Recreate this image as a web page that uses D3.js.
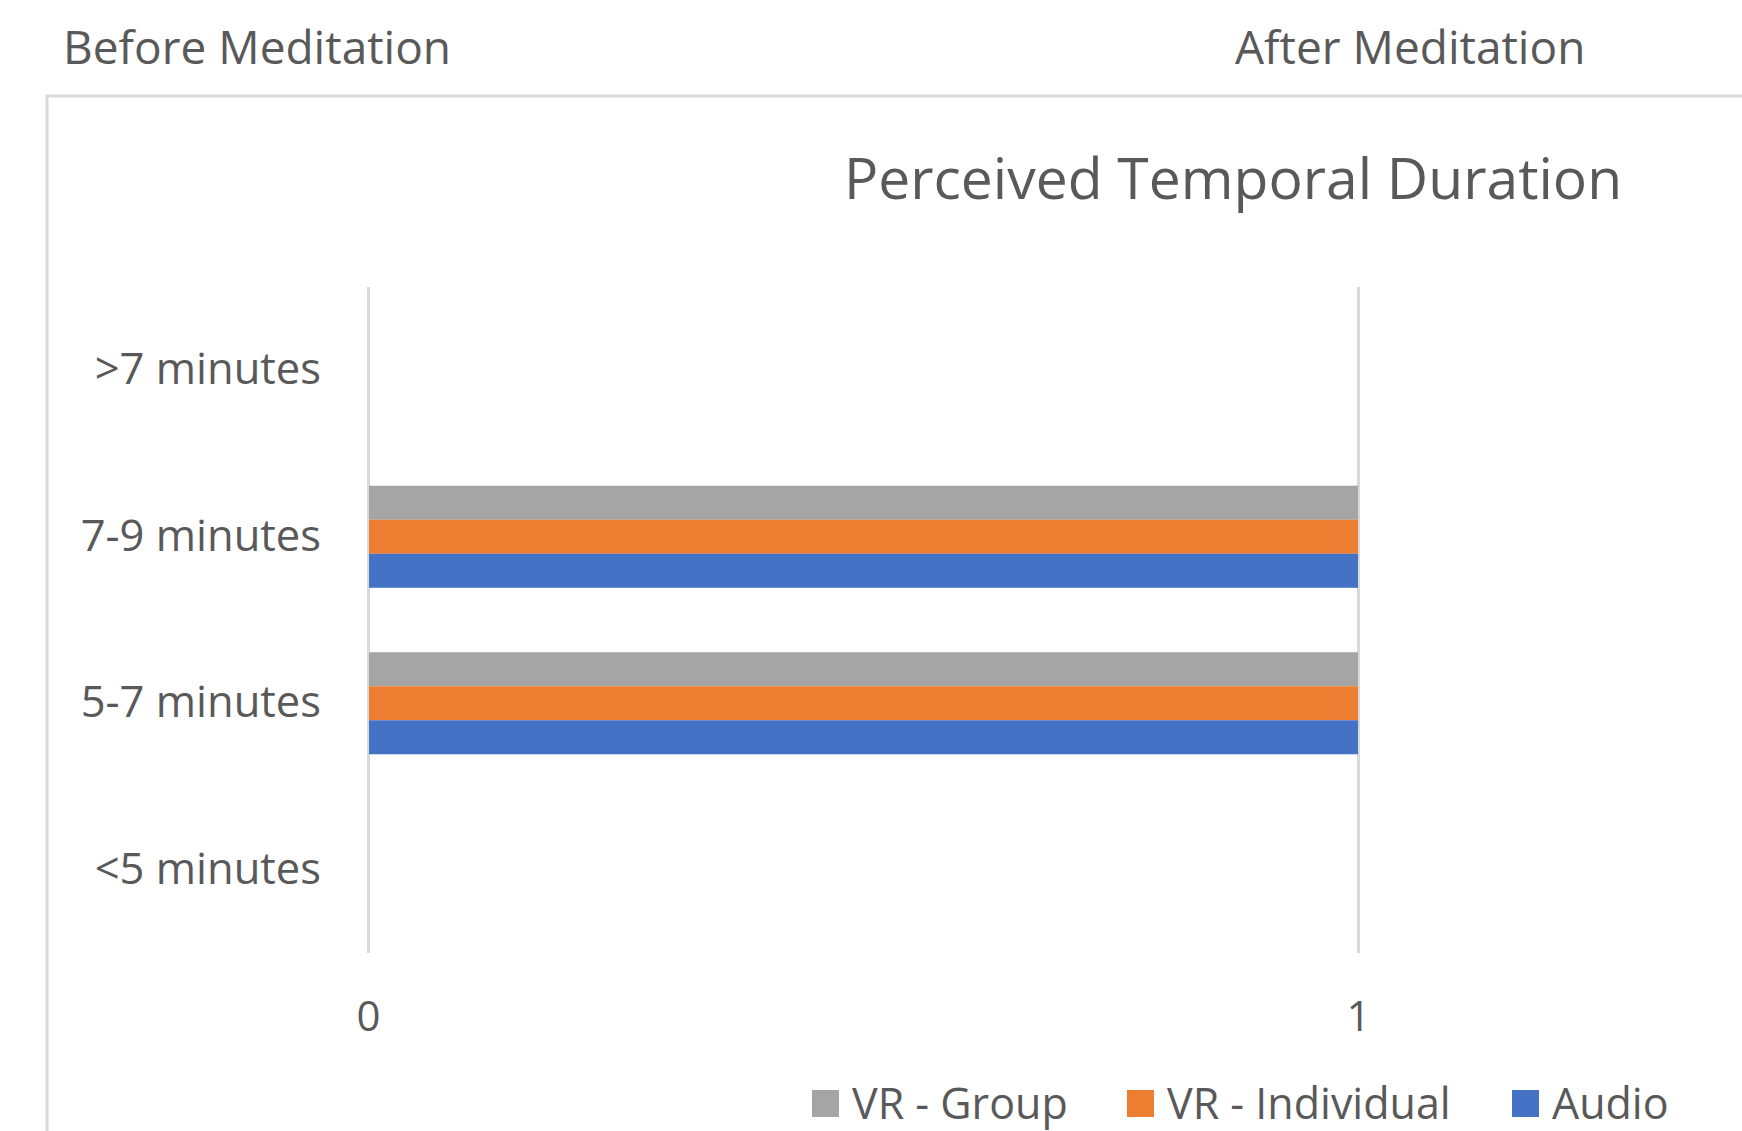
<!DOCTYPE html>
<html>
<head>
<meta charset="utf-8">
<script src="https://cdn.jsdelivr.net/npm/d3@7"></script>
<style>
  body { margin: 0; background: #fff; }
  svg text { font-family: "Open Sans", "Noto Sans", sans-serif; fill: #595959; }
</style>
</head>
<body>
<div id="chart"></div>
<script>
// Data
const categories = [">7 minutes", "7-9 minutes", "5-7 minutes", "<5 minutes"];
const seriesNames = ["VR - Group", "VR - Individual", "Audio"];
const vrGroup = [0, 1, 1, 0];
const vrIndividual = [0, 1, 1, 0];
const audio = [0, 1, 1, 0];
const xTicks = [0, 1];
const seriesColors = ["#A5A5A5", "#ED7D31", "#4472C4"];

const seriesValues = [vrGroup, vrIndividual, audio];

const W = 1742, H = 1131;
const plot = { left: 368, right: 1358, top: 287, bottom: 953 };

const svg = d3.select("#chart").append("svg")
  .attr("width", W)
  .attr("height", H);

// Header labels above the chart frame
svg.append("text")
  .attr("x", 63).attr("y", 64)
  .style("font-size", "46px")
  .text("Before Meditation");
svg.append("text")
  .attr("x", 1235).attr("y", 64)
  .style("font-size", "46px")
  .text("After Meditation");

// Chart frame (cut off at right and bottom)
svg.append("path")
  .attr("d", `M47,${H} L47,96 L${W},96`)
  .attr("fill", "none")
  .attr("stroke", "#d9d9d9")
  .attr("stroke-width", 3);

// Title
svg.append("text")
  .attr("x", 1233).attr("y", 199)
  .attr("text-anchor", "middle")
  .style("font-size", "57px")
  .text("Perceived Temporal Duration");

// Scales
const x = d3.scaleLinear().domain([0, 1]).range([plot.left, plot.right]);
const y = d3.scaleBand().domain(categories).range([plot.top, plot.bottom])
  .paddingInner(0.387).paddingOuter(0.1935);
const ySub = d3.scaleBand().domain(seriesNames).range([0, y.bandwidth()]);

// Gridlines
const grid = svg.append("g")
  .attr("transform", `translate(0,${plot.bottom})`)
  .call(d3.axisBottom(x).tickValues(xTicks).tickSize(-(plot.bottom - plot.top)).tickFormat(""));
grid.select(".domain").remove();
grid.selectAll("line").attr("stroke", "#d9d9d9").attr("stroke-width", 3);

// Bars
const rows = categories.map((c, i) => ({
  cat: c,
  vals: seriesNames.map((s, j) => ({ name: s, value: seriesValues[j][i], color: seriesColors[j] }))
}));

svg.append("g").selectAll("g")
  .data(rows)
  .join("g")
  .attr("transform", d => `translate(0,${y(d.cat)})`)
  .selectAll("rect")
  .data(d => d.vals)
  .join("rect")
  .attr("x", x(0) + 1)
  .attr("y", d => ySub(d.name))
  .attr("width", d => Math.max(0, x(d.value) - x(0) - 1))
  .attr("height", ySub.bandwidth())
  .attr("fill", d => d.color);

// X axis labels
const xAxis = svg.append("g")
  .attr("transform", `translate(0,${plot.bottom})`)
  .call(d3.axisBottom(x).tickValues(xTicks).tickSize(0).tickPadding(48).tickFormat(d3.format("d")));
xAxis.select(".domain").remove();
xAxis.selectAll("text").style("font-size", "42px").attr("fill", "#595959");

// Y axis labels
const yAxis = svg.append("g")
  .attr("transform", `translate(${plot.left},0)`)
  .call(d3.axisLeft(y).tickSize(0).tickPadding(47));
yAxis.select(".domain").remove();
yAxis.selectAll("text").style("font-size", "43.5px").attr("fill", "#595959");

// Legend
const legendX = [812, 1127, 1512];
const legend = svg.append("g").selectAll("g")
  .data(seriesNames)
  .join("g")
  .attr("transform", (d, i) => `translate(${legendX[i]},1090)`);
legend.append("rect")
  .attr("width", 27).attr("height", 27)
  .attr("fill", (d, i) => seriesColors[i]);
legend.append("text")
  .attr("x", 40).attr("y", 13.5)
  .attr("dy", "0.35em")
  .style("font-size", "43px")
  .text(d => d);
</script>
</body>
</html>
